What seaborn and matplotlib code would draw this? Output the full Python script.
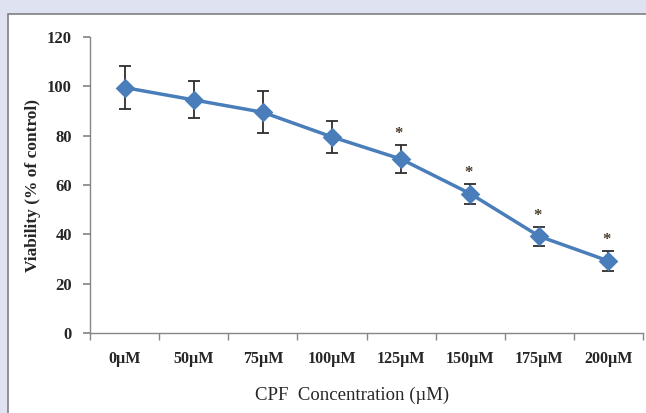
import seaborn as sns
import pandas as pd
import matplotlib.pyplot as plt
from matplotlib.patches import Rectangle

concentrations = ["0µM", "50µM", "75µM", "100µM", "125µM", "150µM", "175µM", "200µM"]
viability = [99.5, 94.5, 89.5, 79.5, 70.5, 56.5, 39.2, 29.2]
sd = [8.8, 7.5, 8.5, 6.6, 5.7, 4.0, 3.9, 4.1]
significant = [False, False, False, False, True, True, True, True]
yticks = [0, 20, 40, 60, 80, 100, 120]

df = pd.DataFrame({"conc": concentrations, "viability": viability, "sd": sd})

sns.set_theme(style="white")
plt.rcParams["font.family"] = ["Liberation Serif", "DejaVu Serif"]

fig = plt.figure(figsize=(6.46, 4.13), dpi=100)
fig.patch.set_facecolor("#dfe3f1")
# white chart box with grey border, kept behind the axes
fig.patches.append(Rectangle((8 / 646, -0.01), 1.0, 1 - 14 / 413 + 0.01,
                             transform=fig.transFigure, facecolor="white",
                             edgecolor="#7f7f7f", linewidth=1.2, zorder=-5))

ax = fig.add_axes([90 / 646, 1 - 333 / 413, 553 / 646, 296 / 413])
ax.set_facecolor("none")

sns.pointplot(data=df, x="conc", y="viability", ax=ax, color="#4a7ebb",
              markers="D", markersize=8, linewidth=2.5, errorbar=None, zorder=3)
ax.errorbar(range(len(concentrations)), viability, yerr=sd, fmt="none",
            ecolor="#2e2e2e", elinewidth=1.3, capsize=4, capthick=1.3, zorder=2)

for i, (v, s, sig) in enumerate(zip(viability, sd, significant)):
    if sig:
        ax.text(i - 0.03, v + s + 4.5, "*", ha="center", va="center",
                fontsize=12, fontweight="bold", color="#4a3a2a")

ax.set_xlim(-0.5, len(concentrations) - 0.5)
ax.set_ylim(0, 120)
ax.set_yticks(yticks)
ax.set_yticklabels([str(t) for t in yticks], fontsize=12, fontweight="bold")
ax.set_xticks(range(len(concentrations)))
ax.set_xticklabels(concentrations, fontsize=11.5, fontweight="bold")
ax.set_xticks([i - 0.5 for i in range(len(concentrations) + 1)], minor=True)
ax.tick_params(axis="x", which="major", length=0, pad=13)
ax.tick_params(axis="x", which="minor", length=5, color="#868686", direction="out", bottom=True)
ax.tick_params(axis="y", length=5, color="#868686", direction="out", left=True, pad=8)

for side in ["top", "right"]:
    ax.spines[side].set_visible(False)
for side in ["left", "bottom"]:
    ax.spines[side].set_color("#868686")
    ax.spines[side].set_linewidth(1.0)

ax.set_ylabel("Viability (% of control)", fontsize=12.5, fontweight="bold", labelpad=4)
ax.set_xlabel("CPF  Concentration (µM)", fontsize=13.5)
ax.xaxis.set_label_coords(0.473, -0.21)
ax.xaxis.label.set_va("center")

fig.savefig("out.png", dpi=100)
